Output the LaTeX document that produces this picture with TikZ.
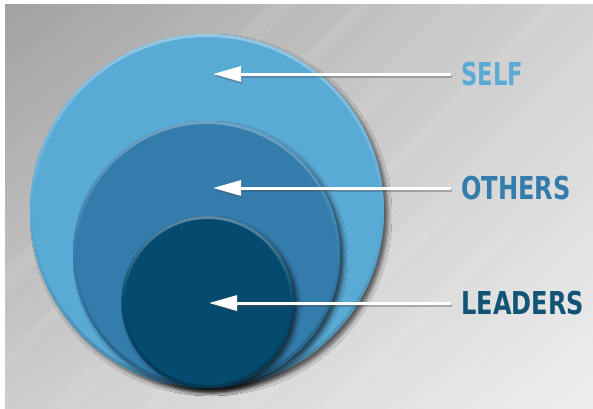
\documentclass[tikz,border=0pt]{standalone}
\usepackage{fontspec}
\newfontfamily\lblfont{DejaVu Sans Condensed Bold}
\usetikzlibrary{arrows.meta,shadows.blur,shadings}
\definecolor{cone}{HTML}{5AAAD6}
\definecolor{ctwo}{HTML}{337CAC}
\definecolor{cthree}{HTML}{054B6F}
\definecolor{bgdark}{HTML}{A2A2A2}
\definecolor{bgmid}{HTML}{D2D2D2}
\definecolor{bglight}{HTML}{EEEEEE}
\begin{document}
\begin{tikzpicture}[x=1pt,y=1pt,
  lbl/.style={anchor=west, inner xsep=10pt, inner ysep=0pt, font=\lblfont\fontsize{31.5}{31.5}\selectfont},
  arr/.style={draw=white, line width=3pt, -{Triangle[length=28pt,width=15pt]}},
  arrsh/.style={draw=black!70, draw opacity=0.35, fill opacity=0.35, line width=3pt, -{Triangle[length=28pt,width=15pt]}},
  disc/.style={circle, inner sep=0pt, blur shadow={shadow xshift=4pt, shadow yshift=-4pt, shadow blur radius=4pt, shadow opacity=60}},
]
\useasboundingbox (0,0) rectangle (593,408);
\fill[white] (0,0) rectangle (593,408);
\shade[upper left=bgdark, upper right=bgmid, lower left=bgmid!90!bgdark, lower right=bglight] (5,0) rectangle (593,403);
\begin{scope}
  \clip (5,0) rectangle (593,403);
  \foreach \o/\w/\op in {-120/18/0.08, -40/10/0.07, 60/22/0.06, 150/12/0.08, 240/26/0.06, 330/14/0.07, 420/20/0.06, 510/10/0.08, 600/18/0.06}
    \draw[white, line width=\w pt, opacity=\op] (\o,0) -- ++(420,420);
\end{scope}
% circles
\node[disc, fill=cone, minimum size=354pt] (self) at (207,197) {};
\shade[top color=cone!65!white, bottom color=cone!80!black, middle color=cone, even odd rule] (self.center) circle (177) (self.center) circle (174);
\node[disc, fill=ctwo, minimum size=267pt] (others) at (206.5,153.5) {};
\shade[top color=ctwo!70!white, bottom color=ctwo!75!black, middle color=ctwo, even odd rule] (others.center) circle (133.5) (others.center) circle (130.5);
\node[disc, fill=cthree, minimum size=172pt] (leaders) at (207.5,106) {};
\shade[top color=cthree!65!white, bottom color=cthree!75!black, middle color=cthree, even odd rule] (leaders.center) circle (86) (leaders.center) circle (83);
% tips
\coordinate (selftip) at (213,334);
\coordinate (otherstip) at (213,220);
\coordinate (leaderstip) at (209,105);
% labels
\node[lbl, text=cone] (selflbl) at (451,334) {\scalebox{0.8}[1]{SELF}};
\node[lbl, text=ctwo] (otherslbl) at (451,220) {\scalebox{0.85}[1]{OTHERS}};
\node[lbl, text=cthree!95!white] (leaderslbl) at (451,105) {\scalebox{0.85}[1]{LEADERS}};
% arrows
\draw[arrsh] ([shift={(1pt,-2pt)}]selflbl.west) -- ([shift={(1pt,-2pt)}]selftip);
\draw[arr] (selflbl.west) -- (selftip);
\draw[arrsh] ([shift={(1pt,-2pt)}]otherslbl.west) -- ([shift={(1pt,-2pt)}]otherstip);
\draw[arr] (otherslbl.west) -- (otherstip);
\draw[arrsh] ([shift={(1pt,-2pt)}]leaderslbl.west) -- ([shift={(1pt,-2pt)}]leaderstip);
\draw[arr] (leaderslbl.west) -- (leaderstip);
\end{tikzpicture}
\end{document}
